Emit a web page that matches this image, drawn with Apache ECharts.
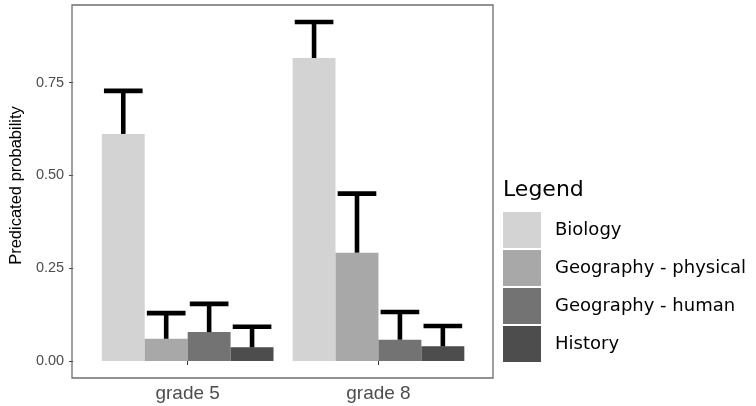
<!DOCTYPE html>
<html>
<head>
<meta charset="utf-8">
<script src="https://cdn.jsdelivr.net/npm/echarts@6/dist/echarts.min.js"></script>
<style>
  html, body { margin: 0; padding: 0; background: #ffffff; }
  #chart { width: 756px; height: 406px; }
</style>
</head>
<body>
<div id="chart"></div>
<script>
// Predicted probability by subject, with upper confidence bounds
const categories = ['grade 5', 'grade 8'];
const subjects = ['Biology', 'Geography - physical', 'Geography - human', 'History'];

const biology = [0.612, 0.8165];
const geographyPhysical = [0.060, 0.292];
const geographyHuman = [0.078, 0.0575];
const history = [0.037, 0.0396];

const biologyUpper = [0.728, 0.9137];
const geographyPhysicalUpper = [0.129, 0.451];
const geographyHumanUpper = [0.154, 0.132];
const historyUpper = [0.0925, 0.0944];

const yTicks = [0, 0.25, 0.5, 0.75];

const values = [biology, geographyPhysical, geographyHuman, history];
const uppers = [biologyUpper, geographyPhysicalUpper, geographyHumanUpper, historyUpper];
const fills = ['#d3d3d3', '#a8a8a8', '#737373', '#4d4d4d'];

// Panel box and ggplot-style axis expansion
const panel = { left: 72, top: 5, right: 493, bottom: 378 };
const unit = (panel.right - panel.left) / (categories.length - 1 + 2 * 0.6);
const gridLeft = panel.left + 0.1 * unit;
const gridRight = panel.right - 0.1 * unit;
const dataMax = Math.max(...uppers.flat());
const yMin = -0.05 * dataMax;
const yMax = 1.05 * dataMax;

const dodgeWidth = 0.9;
const nSub = subjects.length;

const barSeries = subjects.map((name, j) => ({
  name: name,
  type: 'bar',
  data: values[j],
  barGap: '0%',
  barCategoryGap: '10%',
  itemStyle: { color: fills[j] },
  z: 3
}));

const errorSeries = subjects.map((name, j) => ({
  type: 'custom',
  name: name + ' CI',
  data: categories.map((c, i) => [i, values[j][i], uppers[j][i]]),
  z: 4,
  silent: true,
  renderItem: function (params, api) {
    const cat = api.value(0);
    const base = api.coord([cat, api.value(1)]);
    const top = api.coord([cat, api.value(2)]);
    const catW = api.size([1, 0])[0];
    const barW = catW * dodgeWidth / nSub;
    const cx = base[0] - catW * dodgeWidth / 2 + (j + 0.5) * barW;
    const half = barW * 0.9 / 2;
    const style = { stroke: '#000000', lineWidth: 4.6, lineCap: 'butt' };
    return {
      type: 'group',
      children: [
        { type: 'line', shape: { x1: cx, y1: base[1], x2: cx, y2: top[1] }, style: style },
        { type: 'line', shape: { x1: cx - half, y1: top[1], x2: cx + half, y2: top[1] }, style: style }
      ]
    };
  }
}));

const chart = echarts.init(document.getElementById('chart'), null, { renderer: 'canvas' });
chart.setOption({
  animation: false,
  backgroundColor: '#ffffff',
  textStyle: { fontFamily: 'Liberation Sans, Arial, sans-serif' },
  grid: {
    left: gridLeft,
    right: 756 - gridRight,
    top: panel.top,
    bottom: 406 - panel.bottom,
    containLabel: false
  },
  title: {
    text: 'Legend',
    left: 503,
    top: 179,
    padding: 0,
    textStyle: { fontFamily: 'DejaVu Sans', fontSize: 22, fontWeight: 'normal', color: '#000000' }
  },
  legend: {
    orient: 'vertical',
    left: 503,
    top: 212,
    padding: 0,
    itemWidth: 38,
    itemHeight: 36,
    itemGap: 2,
    icon: 'rect',
    selectedMode: false,
    data: subjects,
    textStyle: { fontFamily: 'DejaVu Sans', fontSize: 18, color: '#000000', padding: [2, 0, 0, 9] }
  },
  xAxis: {
    type: 'category',
    data: categories,
    axisLine: { show: false },
    axisTick: { show: true, alignWithLabel: true, length: 4, lineStyle: { color: '#333333', width: 1 } },
    axisLabel: { fontSize: 19, color: '#4d4d4d', margin: 6 },
    splitLine: { show: false }
  },
  yAxis: {
    type: 'value',
    min: yMin,
    max: yMax,
    offset: gridLeft - panel.left,
    name: 'Predicated probability',
    nameLocation: 'middle',
    nameGap: 42,
    nameTextStyle: { fontSize: 16.5, color: '#000000', padding: [0, 0, 0, 12] },
    axisLine: { show: false },
    axisTick: { show: true, customValues: yTicks, length: 4, lineStyle: { color: '#333333', width: 1 } },
    axisLabel: {
      customValues: yTicks,
      fontSize: 14.5,
      color: '#4d4d4d',
      margin: 9,
      formatter: v => v.toFixed(2)
    },
    splitLine: { show: false }
  },
  graphic: [{
    type: 'rect',
    shape: { x: panel.left, y: panel.top, width: panel.right - panel.left, height: panel.bottom - panel.top },
    style: { fill: 'none', stroke: '#6e6e6e', lineWidth: 1.3 },
    z: 10,
    silent: true
  }],
  series: barSeries.concat(errorSeries)
});
</script>
</body>
</html>
